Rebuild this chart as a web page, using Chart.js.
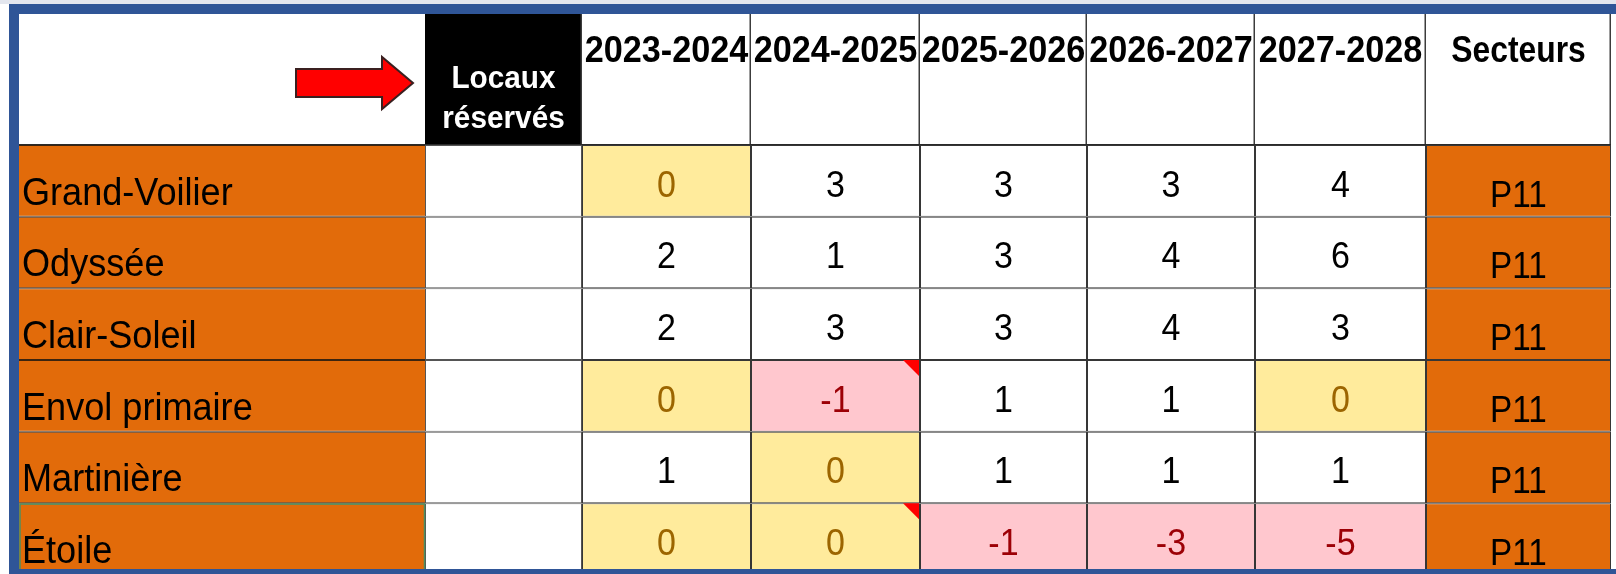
<!DOCTYPE html>
<html lang="fr">
<head>
<meta charset="utf-8">
<title>Locaux réservés</title>
<script src="https://cdn.jsdelivr.net/npm/chart.js@4.4.1/dist/chart.umd.min.js"></script>
<style>
    html, body { margin:0; padding:0; width:1616px; height:574px; overflow:hidden; background:#fff; }
    #tableau { position:absolute; left:0; top:0; }
    #bande { position:absolute; left:0; top:0; width:1616px; height:4px; background:#e3e6ee; }
    #cadre { position:absolute; left:9px; top:4px; width:1660px; height:555px;
             border-top:10px solid #2f5597; border-left:10px solid #2f5597; border-bottom:10px solid #2f5597; }
</style>
</head>
<body>
<canvas id="tableau" width="1616" height="575"></canvas>
<div id="bande"></div>
<div id="cadre"></div>

<script>
// donnees
const etablissements = ['Grand-Voilier', 'Odyssée', 'Clair-Soleil', 'Envol primaire', 'Martinière', 'Étoile'];
const annees = ['2023-2024', '2024-2025', '2025-2026', '2026-2027', '2027-2028'];
const val_2023_2024 = [0, 2, 2, 0, 1, 0];
const val_2024_2025 = [3, 1, 3, -1, 0, 0];
const val_2025_2026 = [3, 3, 3, 1, 1, -1];
const val_2026_2027 = [3, 4, 4, 1, 1, -3];
const val_2027_2028 = [4, 6, 3, 0, 1, -5];
const locaux = ['', '', '', '', '', ''];
const secteurs = ['P11', 'P11', 'P11', 'P11', 'P11', 'P11'];
const commentaires = [['Envol primaire', '2024-2025'], ['Étoile', '2024-2025']];

const valeursAnnees = [val_2023_2024, val_2024_2025, val_2025_2026, val_2026_2027, val_2027_2028];
const colonnes = ['', 'Locaux réservés', ...annees, 'Secteurs'];

// mise en page (largeur des colonnes, unites de l'axe x)
const largeurs = [406, 157, 169, 169, 167, 168, 171, 185];
const ORANGE = '#e26b0a';
const POLICE = '"Liberation Sans", Arial, sans-serif';

let ctx1;

document.addEventListener('DOMContentLoaded', function(){
    ctx1 = document.getElementById('tableau');
    dessinerTableau();
})

function fondCellule(c, r){
    if(c === 0 || c === 7) return ORANGE;
    if(c === 1) return '#ffffff';
    let v = valeursAnnees[c - 2][r];
    return v < 0 ? '#ffc7ce' : v === 0 ? '#ffeb9c' : '#ffffff';
}

function texteCellule(c, r){
    if(c === 0) return etablissements[r];
    if(c === 1) return locaux[r];
    if(c === 7) return secteurs[r];
    return String(valeursAnnees[c - 2][r]);
}

function couleurTexte(c, r){
    if(c < 2 || c > 6) return '#000000';
    let v = valeursAnnees[c - 2][r];
    return v < 0 ? '#9c0006' : v === 0 ? '#9c6500' : '#000000';
}

function rectCellule(chart, c, r){
    let el = chart.getDatasetMeta(c).data[r];
    let p = el.getProps(['x', 'y', 'base', 'height'], true);
    return {gauche: p.base, droite: p.x, haut: p.y - p.height / 2, bas: p.y + p.height / 2};
}

// texte un peu etroit, comme dans la capture
function texteEtroit(c, t, x, y, facteur){
    c.save();
    c.translate(x, y);
    c.scale(facteur, 1);
    c.fillText(t, 0, 0);
    c.restore();
}

// en-tete : fond, lignes, fleche, titres de colonnes
const enTete = {
    id: 'enTete',
    beforeDatasetsDraw(chart){
        const c = chart.ctx;
        const x = chart.scales.x;
        const haut = chart.chartArea.top;
        let bords = [0];
        largeurs.forEach((l, i) => bords.push(bords[i] + l));
        let px = bords.map(b => x.getPixelForValue(b));

        c.save();
        c.fillStyle = '#ffffff';
        c.fillRect(px[0], 0, px[8] - px[0], haut);
        c.fillStyle = '#000000';
        c.fillRect(px[1], 0, px[2] - px[1], haut);

        c.strokeStyle = '#3c3c3c';
        c.lineWidth = 1.5;
        for(let i = 2; i <= 8; i++){
            c.beginPath();
            c.moveTo(Math.round(px[i]) - 0.75, 0);
            c.lineTo(Math.round(px[i]) - 0.75, haut);
            c.stroke();
        }
        c.fillStyle = '#2a2a2a';
        c.fillRect(px[0], haut - 1, px[8] - px[0], 1);

        // fleche rouge
        let pointe = px[1] - 12, queue = px[1] - 129, baseTete = px[1] - 43;
        let cy = haut - 62;
        c.beginPath();
        c.moveTo(queue, cy - 14);
        c.lineTo(baseTete, cy - 14);
        c.lineTo(baseTete, cy - 26);
        c.lineTo(pointe, cy);
        c.lineTo(baseTete, cy + 26);
        c.lineTo(baseTete, cy + 14);
        c.lineTo(queue, cy + 14);
        c.closePath();
        c.fillStyle = '#ff0000';
        c.fill();
        c.strokeStyle = '#3a2020';
        c.lineWidth = 2;
        c.stroke();

        // titres
        c.textAlign = 'center';
        c.textBaseline = 'alphabetic';
        c.fillStyle = '#ffffff';
        c.font = 'bold 31px ' + POLICE;
        let milieu = (px[1] + px[2]) / 2;
        texteEtroit(c, 'Locaux', milieu, haut - 57, 0.96);
        texteEtroit(c, 'réservés', milieu, haut - 17, 0.96);

        c.fillStyle = '#000000';
        c.font = 'bold 37px ' + POLICE;
        for(let i = 2; i < colonnes.length; i++){
            let f = i === 7 ? 0.86 : 0.925;
            texteEtroit(c, colonnes[i], (px[i] + px[i + 1]) / 2, haut - 83, f);
        }
        c.restore();
    }
};

// textes des cellules, triangles de commentaire, selection
const cellules = {
    id: 'cellules',
    afterDatasetsDraw(chart){
        const c = chart.ctx;
        c.save();
        c.textBaseline = 'alphabetic';
        colonnes.forEach((col, ci) => {
            etablissements.forEach((nom, r) => {
                let rc = rectCellule(chart, ci, r);
                let t = texteCellule(ci, r);
                c.fillStyle = couleurTexte(ci, r);
                if(ci === 0){
                    c.font = '38px ' + POLICE;
                    c.textAlign = 'left';
                    texteEtroit(c, t, rc.gauche + 3, rc.bas - 12, 0.95);
                }else if(ci === 7){
                    c.font = '37px ' + POLICE;
                    c.textAlign = 'center';
                    texteEtroit(c, t, (rc.gauche + rc.droite) / 2, rc.bas - 10, 0.9);
                }else{
                    c.font = '37px ' + POLICE;
                    c.textAlign = 'center';
                    texteEtroit(c, t, (rc.gauche + rc.droite) / 2, rc.bas - 20, 0.92);
                }
            })
        })

        commentaires.forEach(function(cm){
            let rc = rectCellule(chart, colonnes.indexOf(cm[1]), etablissements.indexOf(cm[0]));
            c.beginPath();
            c.moveTo(rc.droite - 17, rc.haut);
            c.lineTo(rc.droite - 1, rc.haut);
            c.lineTo(rc.droite - 1, rc.haut + 16);
            c.closePath();
            c.fillStyle = '#ff0000';
            c.fill();
        })

        // cellule selectionnee
        let sel = rectCellule(chart, 0, etablissements.length - 1);
        c.strokeStyle = '#4f8f5f';
        c.lineWidth = 1.5;
        c.strokeRect(sel.gauche + 1, sel.haut + 0.75, sel.droite - sel.gauche - 1.5, sel.bas - sel.haut);
        c.restore();
    }
};

function dessinerTableau(){
    let debut = 0;
    let jeux = colonnes.map(function(nom, ci){
        let a = debut;
        debut += largeurs[ci];
        let bordure = 1;
        if(ci === 0) bordure = {top: 1, bottom: 1, left: 0, right: 0};
        if(ci === 1) bordure = {top: 1, bottom: 1, left: 1, right: 1};
        return {
            label: nom || 'Établissement',
            data: etablissements.map(() => [a, a + largeurs[ci]]),
            backgroundColor: (ctx) => fondCellule(ci, ctx.dataIndex),
            borderColor: ci === 0 ? '#3b2410' : ci === 1 ? '#555555' : '#363636',
            borderWidth: bordure,
            borderSkipped: false,
            grouped: false,
            barPercentage: 1,
            categoryPercentage: 1,
            inflateAmount: 0
        };
    });

    // TABLEAU
    new Chart(ctx1, {
        type: 'bar',
        data: {
            labels: etablissements,
            datasets: jeux
        },
        options: {
            indexAxis: 'y',
            responsive: false,
            devicePixelRatio: 1,
            animation: false,
            events: [],
            layout: {padding: {left: 19, right: 5, top: 145, bottom: 0}},
            scales: {
                x: {type: 'linear', min: 0, max: debut, display: false},
                y: {type: 'category', display: false, offset: true}
            },
            plugins: {
                legend: {display: false},
                tooltip: {enabled: false}
            }
        },
        plugins: [enTete, cellules]
    });
}
</script>
</body>
</html>
